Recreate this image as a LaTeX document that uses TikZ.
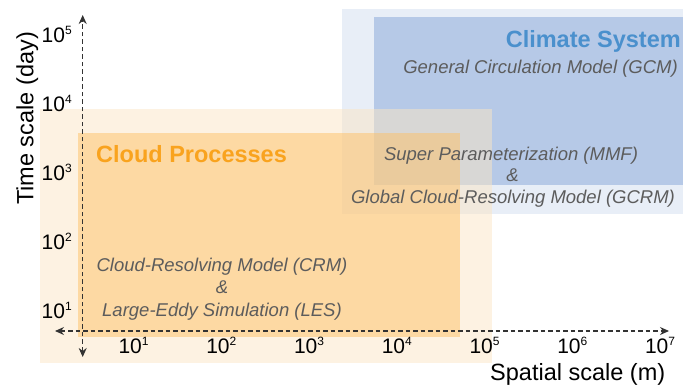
\documentclass[tikz,border=0pt]{standalone}
\usepackage{fontspec}
\setmainfont{Liberation Sans}
\usetikzlibrary{arrows.meta}
\definecolor{lblue}{HTML}{E8EEF7}
\definecolor{dblue}{HTML}{B6C9E7}
\definecolor{lorange}{HTML}{FBE5C5}
\definecolor{dorange}{HTML}{FDC066}
\definecolor{axisgray}{HTML}{333333}
\definecolor{txtgray}{HTML}{5C5C5C}
\definecolor{climblue}{HTML}{4A90CD}
\definecolor{cloudorange}{HTML}{F9A31E}
\newcommand\tenpow[1]{10\raisebox{7.5pt}{\fontsize{12}{12}\selectfont #1}}
\begin{document}
\begin{tikzpicture}[x=1pt,y=-1pt,
  axisline/.style={draw=axisgray, line width=1.1pt, dash pattern=on 4.5pt off 3pt,
    {Stealth[length=9pt,width=8pt]}-{Stealth[length=9pt,width=8pt]}},
  modeltext/.style={inner sep=0pt, text=txtgray, font=\fontsize{18.5}{20}\selectfont\itshape},
  titletext/.style={inner sep=0pt, font=\fontsize{23.5}{26}\selectfont\bfseries},
  ticklabel/.style={inner sep=0pt, text=black, font=\fontsize{21}{22}\selectfont},
  axislabel/.style={inner sep=0pt, text=black, font=\fontsize{23.5}{26}\selectfont}
]
\useasboundingbox (0,0) rectangle (693,389);
% regions
\fill[lblue] (341.5,9.3) rectangle (683,214);
\fill[dblue] (374,16.7) rectangle (683,185);
\fill[lorange, fill opacity=0.5] (40,109.3) rectangle (491.5,362.7);
\fill[dorange, fill opacity=0.5] (77.7,133.3) rectangle (460,337.3);
% axes
\coordinate (xl) at (55,331);
\coordinate (xr) at (669,331);
\coordinate (yb) at (82.7,357);
\coordinate (yt) at (82.7,15);
\draw[axisline] (xl) -- (xr);
\draw[axisline] (yb) -- (yt);
% ticks
\foreach \k/\e in {0/1,1/2,2/3,3/4,4/5,5/6,6/7}
  \node[ticklabel, anchor=base west] (xt\e) at (118.3+87.75*\k,353) {\tenpow{\e}};
\foreach \k/\e in {0/1,1/2,2/3,3/4,4/5}
  \node[ticklabel, anchor=base west] (yt\e) at (41.5,318-69*\k) {\tenpow{\e}};
% axis labels
\node[axislabel, anchor=base west] (xlab) at (490,380) {Spatial scale (m)};
\node[axislabel, anchor=base, rotate=90] (ylab) at (33.3,118.5) {Time scale (day)};
% texts
\node[titletext, text=climblue, anchor=base east] (clim) at (681,47) {Climate System};
\node[modeltext, anchor=base east] (gcm) at (678,73.3) {General Circulation Model (GCM)};
\node[modeltext, anchor=base] (mmf) at (511,160) {Super Parameterization (MMF)};
\node[modeltext, anchor=base] (amp1) at (512.5,181.5) {\&};
\node[modeltext, anchor=base] (gcrm) at (513,203) {Global Cloud-Resolving Model (GCRM)};
\node[titletext, text=cloudorange, anchor=base west] (cloud) at (96,162.5) {Cloud Processes};
\node[modeltext, anchor=base] (crm) at (222,271) {Cloud-Resolving Model (CRM)};
\node[modeltext, anchor=base] (amp2) at (222,293.5) {\&};
\node[modeltext, anchor=base] (les) at (222,316) {Large-Eddy Simulation (LES)};
\end{tikzpicture}
\end{document}
